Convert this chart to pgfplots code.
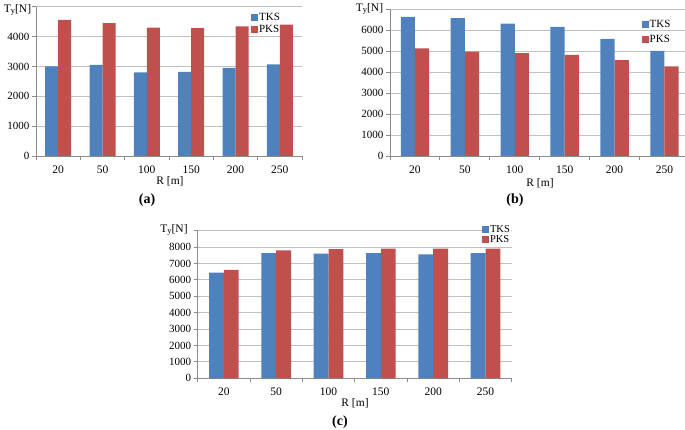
\documentclass[border=0pt]{standalone}
\usepackage{pgfplots}
\pgfplotsset{compat=1.18}
\usepackage{fontspec}
\setmainfont{Liberation Serif}
\definecolor{tks}{HTML}{4F81BD}
\definecolor{pks}{HTML}{C0504D}
\definecolor{gridc}{HTML}{C0C0C0}
\definecolor{axc}{HTML}{8C8C8C}

\pgfplotstableread{
x TKS PKS
0 3000 4560
1 3050 4450
2 2800 4300
3 2820 4280
4 2950 4340
5 3070 4400
}\dataA
\pgfplotstableread{
x TKS PKS
0 6620 5130
1 6560 4970
2 6300 4900
3 6150 4810
4 5580 4560
5 5000 4270
}\dataB
\pgfplotstableread{
x TKS PKS
0 6450 6610
1 7630 7800
2 7600 7870
3 7630 7900
4 7550 7900
5 7630 7900
}\dataC

\pgfplotsset{
  panel/.style={
    scale only axis,
    anchor=south west,
    ybar=0pt,
    xmin=-0.5, xmax=5.5,
    ymin=0,
    axis lines*=left,
    axis line style={axc, line width=0.9pt},
    xtick={0,...,5},
    xticklabels={20,50,100,150,200,250},
    minor xtick={-0.5,0.5,...,5.5},
    major x tick style={draw=none},
    minor x tick style={axc, line width=0.9pt},
    minor tick length=4pt,
    y tick style={axc, line width=0.9pt},
    major tick length=4pt,
    tick align=outside,
    ymajorgrids,
    grid style={gridc, line width=0.9pt},
    /pgf/number format/assume math mode=true,
    /pgf/number format/1000 sep={},
    yticklabel style={font=\fontsize{11}{12}\selectfont, xshift=1pt},
    xticklabel style={font=\fontsize{11.5}{12}\selectfont, yshift=-2.5pt},
    legend cell align=left,
    legend style={draw=none, fill=none, inner sep=0pt,
      font=\fontsize{11}{12}\selectfont,
      nodes={inner sep=1pt}, row sep=1pt},
    clip=false,
  },
  tksbar/.style={fill=tks, draw=none,
    legend image code/.code={\fill[tks] (0pt,-3.5pt) rectangle (7pt,3.5pt);}},
  pksbar/.style={fill=pks, draw=none,
    legend image code/.code={\fill[pks] (0pt,-3.5pt) rectangle (7pt,3.5pt);}},
}

\begin{document}
\begin{tikzpicture}[x=1pt,y=1pt]
% (a)
\begin{axis}[panel, at={(36pt,274pt)}, width=266pt, height=149.3pt,
  ymax=5000, ytick={0,1000,...,5000}, yticklabels={0,1000,2000,3000,4000,},
  bar width=13pt,
  legend style={at={(axis description cs:0.808,0.965)}, anchor=north west}]
\addplot[tksbar] table[x=x,y=TKS]{\dataA};
\addplot[pksbar] table[x=x,y=PKS]{\dataA};
\legend{TKS,PKS}
\end{axis}
% (b)
\begin{axis}[panel, at={(390pt,274pt)}, width=299.4pt, height=147pt,
  ymax=7000, ytick={0,1000,...,7000}, yticklabels={0,1000,2000,3000,4000,5000,6000,},
  bar width=14.2pt,
  legend style={at={(axis description cs:0.84,0.935)}, anchor=north west, row sep=5pt}]
\addplot[tksbar] table[x=x,y=TKS]{\dataB};
\addplot[pksbar] table[x=x,y=PKS]{\dataB};
\legend{TKS,PKS}
\end{axis}
% (c)
\begin{axis}[panel, at={(197.7pt,51.7pt)}, width=314pt, height=147.6pt,
  ymax=9000, ytick={0,1000,...,9000}, yticklabels={0,1000,2000,3000,4000,5000,6000,7000,8000,},
  bar width=14.8pt,
  legend style={at={(axis description cs:0.905,1.045)}, anchor=north west, fill=white, row sep=0pt,
    font=\fontsize{10.5}{11}\selectfont}]
\addplot[tksbar] table[x=x,y=TKS]{\dataC};
\addplot[pksbar] table[x=x,y=PKS]{\dataC};
\legend{TKS,PKS}
\end{axis}
% texts
\node[font=\fontsize{11.5}{12}\selectfont] at (17.5pt,420pt) {T\raisebox{-0.3ex}{\fontsize{8.5}{9}\selectfont y}[N]};
\node[font=\fontsize{11.5}{12}\selectfont] at (369.5pt,421pt) {T\raisebox{-0.3ex}{\fontsize{8.5}{9}\selectfont y}[N]};
\node[font=\fontsize{11.5}{12}\selectfont] at (174pt,200pt) {T\raisebox{-0.3ex}{\fontsize{8.5}{9}\selectfont y}[N]};
\node[font=\fontsize{11.5}{12}\selectfont] at (170pt,248.3pt) {R [m]};
\node[font=\fontsize{11.5}{12}\selectfont] at (540pt,247pt) {R [m]};
\node[font=\fontsize{11.5}{12}\selectfont] at (355pt,27pt) {R [m]};
\node[font=\fontsize{14}{15}\selectfont] at (147pt,230pt) {\textbf{(a)}};
\node[font=\fontsize{14}{15}\selectfont] at (515pt,230pt) {\textbf{(b)}};
\node[font=\fontsize{14}{15}\selectfont] at (340pt,8pt) {\textbf{(c)}};
\pgfresetboundingbox
\useasboundingbox (0pt,0pt) rectangle (685pt,430pt);
\end{tikzpicture}
\end{document}
